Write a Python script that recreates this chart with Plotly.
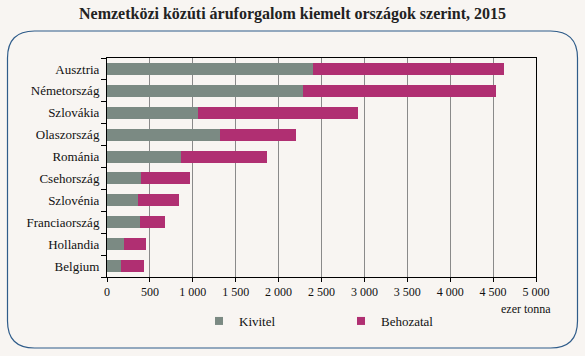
import plotly.graph_objects as go

countries = ["Ausztria", "Németország", "Szlovákia", "Olaszország", "Románia",
             "Csehország", "Szlovénia", "Franciaország", "Hollandia", "Belgium"]
kivitel = [2406, 2289, 1061, 1322, 867, 401, 361, 381, 195, 168]
osszesen = [4623, 4530, 2925, 2199, 1861, 967, 839, 680, 455, 428]
behozatal = [t - k for t, k in zip(osszesen, kivitel)]
tick_vals = [0, 500, 1000, 1500, 2000, 2500, 3000, 3500, 4000, 4500, 5000]
tick_text = ["0", "500", "1 000", "1 500", "2 000", "2 500", "3 000", "3 500", "4 000", "4 500", "5 000"]

W, H = 585, 356
L, R, T, B = 107, 49, 58, 79
pw, ph = W - L - R, H - T - B

def px(x):
    return (x - L) / pw

def py(y):
    return (H - B - y) / ph

SERIF = "Liberation Serif, Times New Roman, serif"
BG = "#f8f5f2"
GRAY = "#7b8a83"
MAG = "#b02f72"

fig = go.Figure()
fig.add_trace(go.Bar(y=countries, x=kivitel, orientation="h", name="Kivitel",
                     marker=dict(color=GRAY, line=dict(width=0)), showlegend=False))
fig.add_trace(go.Bar(y=countries, x=behozatal, orientation="h", name="Behozatal",
                     marker=dict(color=MAG, line=dict(width=0)), showlegend=False))
# legend entries with small square markers
fig.add_trace(go.Scatter(x=[None], y=[None], mode="markers", name="Kivitel",
                         marker=dict(symbol="square", size=8, color=GRAY)))
fig.add_trace(go.Scatter(x=[None], y=[None], mode="markers", name="Behozatal",
                         marker=dict(symbol="square", size=8, color=MAG)))

# rounded frame
x0, x1, y0, y1, r = 7.5, 577.5, 31, 348, 27
path = (f"M {px(x0 + r)},{py(y0)} L {px(x1 - r)},{py(y0)} "
        f"Q {px(x1)},{py(y0)} {px(x1)},{py(y0 + r)} "
        f"L {px(x1)},{py(y1 - r)} Q {px(x1)},{py(y1)} {px(x1 - r)},{py(y1)} "
        f"L {px(x0 + r)},{py(y1)} Q {px(x0)},{py(y1)} {px(x0)},{py(y1 - r)} "
        f"L {px(x0)},{py(y0 + r)} Q {px(x0)},{py(y0)} {px(x0 + r)},{py(y0)} Z")

fig.update_layout(
    width=W, height=H,
    margin=dict(l=L, r=R, t=T, b=B, autoexpand=False),
    barmode="stack", bargap=0.45,
    paper_bgcolor=BG, plot_bgcolor=BG,
    font=dict(family=SERIF, size=12, color="#111"),
    title=dict(text="<b>Nemzetközi közúti áruforgalom kiemelt országok szerint, 2015</b>",
               x=0.5, xanchor="center", y=1 - 13 / H, yanchor="middle",
               font=dict(family=SERIF, size=16, color="#222")),
    xaxis=dict(range=[0, 5000], tickvals=tick_vals, ticktext=tick_text,
               showgrid=True, gridcolor="#8a8a8a", gridwidth=1,
               showline=True, linecolor="#000", linewidth=1, mirror=True,
               ticks="outside", ticklen=4, tickcolor="#000",
               zeroline=False, tickfont=dict(size=12)),
    yaxis=dict(categoryorder="array", categoryarray=countries[::-1],
               showline=True, linecolor="#000", linewidth=1, mirror=True,
               ticks="outside", ticklen=5, tickcolor="#000", tickson="boundaries",
               ticklabelstandoff=4, tickfont=dict(size=13)),
    legend=dict(orientation="h", x=px(199), xanchor="left", y=py(321), yanchor="middle",
                bgcolor="rgba(0,0,0,0)", entrywidth=97, entrywidthmode="pixels",
                font=dict(size=13), traceorder="normal", itemwidth=30, borderwidth=0),
    showlegend=True,
    shapes=[dict(type="path", xref="paper", yref="paper", path=path,
                 line=dict(color="#2f5c8a", width=1.2), fillcolor="rgba(0,0,0,0)",
                 layer="below")],
    annotations=[dict(text="ezer tonna", xref="paper", yref="paper",
                      x=px(553), y=py(309), xanchor="right", yanchor="middle",
                      showarrow=False, font=dict(size=12))],
)

fig.write_html("out.html", config={"displayModeBar": False},
               post_script="document.body.style.margin='0';")
